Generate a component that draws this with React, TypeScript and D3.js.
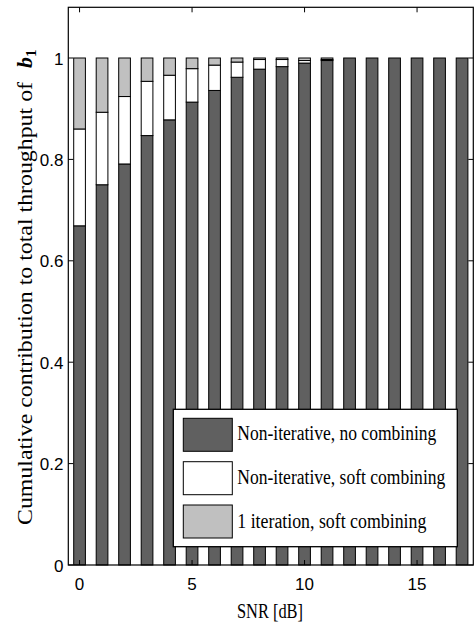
import React from "react";
import * as d3 from "d3";

const snr = [0, 1, 2, 3, 4, 5, 6, 7, 8, 9, 10, 11, 12, 13, 14, 15, 16, 17];
const noCombining = [0.669, 0.75, 0.791, 0.847, 0.878, 0.913, 0.936, 0.962, 0.978, 0.983, 0.99, 0.995, 1, 1, 1, 1, 1, 1];
const softCombining = [0.191, 0.143, 0.133, 0.107, 0.088, 0.066, 0.05, 0.03, 0.019, 0.014, 0.005, 0.002, 0, 0, 0, 0, 0, 0];
const oneIteration = [0.14, 0.107, 0.076, 0.046, 0.034, 0.021, 0.014, 0.008, 0.003, 0.003, 0.005, 0.003, 0, 0, 0, 0, 0, 0];
const seriesKeys = ["noComb", "soft", "iter"];
const seriesLabels = ["Non-iterative, no combining", "Non-iterative, soft combining", "1 iteration, soft combining"];
const seriesColors = ["#606060", "#ffffff", "#c0c0c0"];
const xTicks = [0, 5, 10, 15];
const yTicks = [0, 0.2, 0.4, 0.6, 0.8, 1];

const W = 474;
const H = 623;
const M = { left: 68.3, right: 473.3, top: 7.3, bottom: 565 };

export default function App() {
  const x = d3.scaleLinear().domain([-0.5, 17.5]).range([M.left, M.right]);
  const y = d3.scaleLinear().domain([0, 1.1]).range([M.bottom, M.top]);
  const rows = snr.map((s, i) => ({ snr: s, noComb: noCombining[i], soft: softCombining[i], iter: oneIteration[i] }));
  const stacked = d3.stack<any>().keys(seriesKeys)(rows);
  const barW = x(0.52) - x(0);
  const legendTextLen = [199, 208, 189];
  const legendY = [418.3, 461.7, 505];
  const legendBase = [440, 484, 528];
  const tickFont = "'Liberation Sans', Arial, sans-serif";
  const serif = "'Liberation Serif', 'Times New Roman', serif";

  return (
    <svg width={W} height={H} style={{ position: "absolute", left: 0, top: 0, background: "#fff" }}>
      <rect x={0} y={0} width={W} height={H} fill="#fff" />
      {stacked.map((layer, li) => (
        <g key={seriesKeys[li]}>
          {layer.map((d, i) =>
            d[1] - d[0] > 0 ? (
              <rect
                key={i}
                x={x(snr[i]) - barW / 2}
                y={y(d[1])}
                width={barW}
                height={y(d[0]) - y(d[1])}
                fill={seriesColors[li]}
                stroke="#000"
                strokeWidth={1}
              />
            ) : null
          )}
        </g>
      ))}
      {/* frame */}
      <rect x={M.left} y={M.top} width={M.right - M.left} height={M.bottom - M.top} fill="none" stroke="#000" strokeWidth={1.2} />
      {/* x ticks */}
      {xTicks.map((t) => (
        <g key={"xt" + t}>
          <line x1={x(t)} x2={x(t)} y1={M.bottom} y2={M.bottom - 5} stroke="#000" />
          <line x1={x(t)} x2={x(t)} y1={M.top} y2={M.top + 5} stroke="#000" />
          <text x={x(t)} y={590} textAnchor="middle" fontFamily={tickFont} fontSize={17}>
            {t}
          </text>
        </g>
      ))}
      {/* y ticks */}
      {yTicks.map((t) => (
        <g key={"yt" + t}>
          <line x1={M.left} x2={M.left + 5} y1={y(t)} y2={y(t)} stroke="#000" />
          <line x1={M.right} x2={M.right - 5} y1={y(t)} y2={y(t)} stroke="#000" />
          <text x={63.5} y={y(t) + 6.5} textAnchor="end" fontFamily={tickFont} fontSize={17}>
            {t}
          </text>
        </g>
      ))}
      {/* axis labels */}
      <text x={270} y={618} textAnchor="middle" fontFamily={serif} fontSize={21} textLength={66} lengthAdjust="spacingAndGlyphs">
        SNR [dB]
      </text>
      <text transform="translate(32,525) rotate(-90)" fontFamily={serif} fontSize={22} textLength={443} lengthAdjust="spacingAndGlyphs">
        Cumulative contribution to total throughput of
      </text>
      <text transform="translate(32,68) rotate(-90)" fontFamily={serif} fontSize={22}>
        <tspan fontWeight="bold" fontStyle="italic">b</tspan>
        <tspan fontSize={15} dy={4} fontWeight="bold">1</tspan>
      </text>
      {/* legend */}
      <rect x={173.3} y={409.3} width={284} height={137.4} fill="#fff" stroke="#000" strokeWidth={1.3} />
      {seriesLabels.map((lab, i) => (
        <g key={lab}>
          <rect x={183.3} y={legendY[i]} width={49} height={33} fill={seriesColors[i]} stroke="#000" strokeWidth={1} />
          <text x={237.3} y={legendBase[i]} fontFamily={serif} fontSize={20} textLength={legendTextLen[i]} lengthAdjust="spacingAndGlyphs">
            {lab}
          </text>
        </g>
      ))}
    </svg>
  );
}
